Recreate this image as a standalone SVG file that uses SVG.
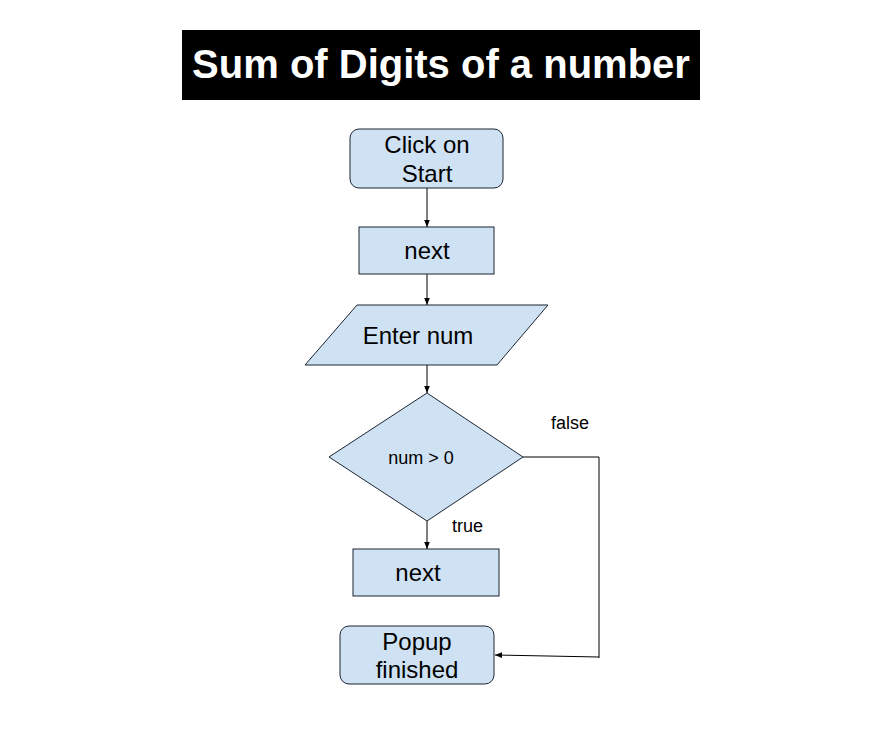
<svg xmlns="http://www.w3.org/2000/svg" width="896" height="731" viewBox="0 0 896 731">
<style>
.n{fill:#cfe2f3;stroke:#1c2430;stroke-width:1}
.t{font-family:"Liberation Sans",Arial,sans-serif;font-size:24px;fill:#000;text-anchor:middle}
.s{font-family:"Liberation Sans",Arial,sans-serif;font-size:18px;fill:#000}
.c{fill:none;stroke:#000;stroke-width:1}
</style>
<defs>
<marker id="a" viewBox="0 0 10 10" refX="10" refY="5" markerWidth="7" markerHeight="7" markerUnits="userSpaceOnUse" orient="auto">
<path d="M0,1 L10,5 L0,9 Z" fill="#000"/>
</marker>
</defs>
<rect width="896" height="731" fill="#fff"/>
<g id="title">
<rect x="182" y="30" width="518" height="70" fill="#000"/>
<text x="441" y="78" font-family="Liberation Sans,Arial,sans-serif" font-size="40" font-weight="bold" fill="#fff" text-anchor="middle">Sum of Digits of a number</text>
</g>
<g id="connectors">
<line class="c" x1="427" y1="188" x2="427" y2="227" marker-end="url(#a)"/>
<line class="c" x1="427" y1="274" x2="427" y2="305" marker-end="url(#a)"/>
<line class="c" x1="427" y1="365" x2="427" y2="393" marker-end="url(#a)"/>
<line class="c" x1="427" y1="521" x2="427" y2="549" marker-end="url(#a)"/>
<polyline class="c" points="523,457 599,457 599,658"/>
<line class="c" x1="599" y1="657" x2="495" y2="655" marker-end="url(#a)"/>
<text class="s" x="551" y="429">false</text>
<text class="s" x="452" y="532">true</text>
</g>
<g id="start">
<rect class="n" x="350" y="129" width="153" height="59" rx="9"/>
<text class="t" x="427" y="153">Click on</text>
<text class="t" x="427" y="182">Start</text>
</g>
<g id="next1">
<rect class="n" x="359" y="227" width="135" height="47"/>
<text class="t" x="427" y="259">next</text>
</g>
<g id="input">
<polygon class="n" points="357,305 548,305 497,365 305,365"/>
<text class="t" x="418" y="344">Enter num</text>
</g>
<g id="decision">
<polygon class="n" points="427,393 523,457 427,521 329,457"/>
<text class="s" x="421" y="464" text-anchor="middle">num &gt; 0</text>
</g>
<g id="next2">
<rect class="n" x="353" y="549" width="146" height="47"/>
<text class="t" x="418" y="581">next</text>
</g>
<g id="popup">
<rect class="n" x="340" y="626" width="154" height="58" rx="9"/>
<text class="t" x="417" y="650">Popup</text>
<text class="t" x="417" y="678">finished</text>
</g>
</svg>
